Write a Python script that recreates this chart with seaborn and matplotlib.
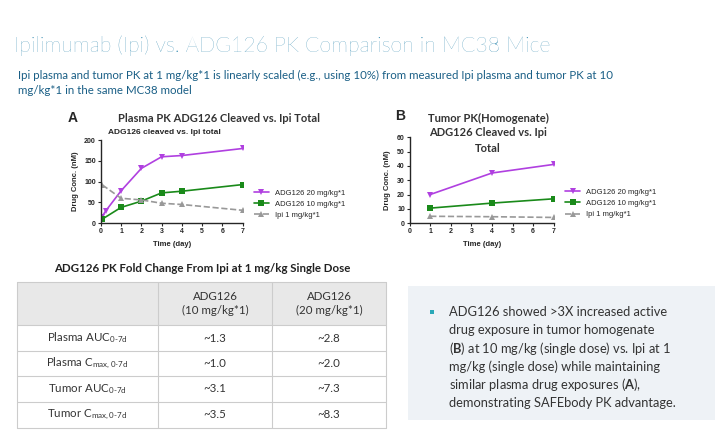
import matplotlib
matplotlib.use("Agg")
import matplotlib.pyplot as plt
import seaborn as sns
import pandas as pd
from matplotlib.patches import Rectangle

# ---- data ----
plasma_time_20 = [0.05, 0.25, 1, 2, 3, 4, 7]
plasma_adg20 = [15, 30, 78, 132, 160, 163, 180]
plasma_time_10 = [0.08, 1, 2, 3, 4, 7]
plasma_adg10 = [10, 38, 53, 73, 77, 93]
plasma_time_ipi = [0.08, 1, 2, 3, 4, 7]
plasma_ipi = [92, 60, 56, 48, 45, 31]

tumor_time = [1, 4, 7]
tumor_adg20 = [20, 35, 41]
tumor_adg10 = [10.5, 14, 17]
tumor_ipi = [4.8, 4.5, 4.0]

series_labels = ["ADG126 20 mg/kg*1", "ADG126 10 mg/kg*1", "Ipi 1 mg/kg*1"]
row_labels = ["Plasma AUC$_{\\mathregular{0\\text{-}7d}}$", "Plasma C$_{\\mathregular{max,0\\text{-}7d}}$",
              "Tumor AUC$_{\\mathregular{0\\text{-}7d}}$", "Tumor C$_{\\mathregular{max,0\\text{-}7d}}$"]
fold_10 = ["~1.3", "~1.0", "~3.1", "~3.5"]
fold_20 = ["~2.8", "~2.0", "~7.3", "~8.3"]

sns.set_style("ticks")
plt.rcParams["font.family"] = ["Liberation Sans", "DejaVu Sans"]
plt.rcParams["mathtext.fontset"] = "custom"
plt.rcParams["mathtext.rm"] = "Lato"
plt.rcParams["mathtext.it"] = "Lato"
plt.rcParams["mathtext.bf"] = "Lato:bold"

fig = plt.figure(figsize=(7.2, 4.3), dpi=100)
bg = fig.add_axes([0, 0, 1, 1], zorder=5)
bg.patch.set_alpha(0)
bg.set_xlim(0, 720)
bg.set_ylim(430, 0)
bg.axis("off")

slide = dict(family="Lato")
teal = "#1f7fa8"
bg.text(14, 46, "Ipilimumab (Ipi) vs. ADG126 PK Comparison in MC38 Mice", fontsize=15.3, color=teal, va="center",
        family="Lato", fontweight="light")
bg.text(18, 75, "Ipi plasma and tumor PK at 1 mg/kg*1 is linearly scaled (e.g., using 10%) from measured Ipi plasma and tumor PK at 10",
        fontsize=8.3, color="#1a5f86", va="center", **slide)
bg.text(18, 91, "mg/kg*1 in the same MC38 model", fontsize=8.3, color="#1a5f86", va="center", **slide)

colors = ["#b040e0", "#1a8a1a", "#999999"]
markers = ["v", "s", "^"]
styles = ["-", "-", "--"]


def draw(ax, data):
    ax.patch.set_alpha(0)
    for (x, y), lab, c, m, ls in zip(data, series_labels, colors, markers, styles):
        df = pd.DataFrame({"t": x, "v": y})
        sns.lineplot(data=df, x="t", y="v", ax=ax, color=c, marker=m, linestyle=ls,
                     markersize=5, markeredgewidth=0, linewidth=1.2, label=lab)
    ax.set_xlim(0, 7)
    ax.set_xticks(range(8))
    ax.set_xlabel("Time (day)", fontsize=5.5, fontweight="bold")
    ax.set_ylabel("Drug Conc. (nM)", fontsize=5.5, fontweight="bold")
    ax.tick_params(labelsize=5, width=0.8, length=2.5, pad=1)
    for lbl in ax.get_xticklabels() + ax.get_yticklabels():
        lbl.set_fontweight("bold")
    sns.despine(ax=ax)
    for s in ["left", "bottom"]:
        ax.spines[s].set_linewidth(1.0)
    ax.legend(loc="center left", bbox_to_anchor=(1.03, 0.23), frameon=False, fontsize=5.5,
              handlelength=2, labelspacing=0.5)


axA = fig.add_axes([0.140, 0.481, 0.197, 0.193])
draw(axA, [(plasma_time_20, plasma_adg20), (plasma_time_10, plasma_adg10), (plasma_time_ipi, plasma_ipi)])
axA.set_ylim(0, 200)
axA.set_yticks([0, 50, 100, 150, 200])
axA.text(0.05, 1.08, "ADG126 cleaved vs. Ipi total", transform=axA.transAxes, fontsize=6, fontweight="bold")

axB = fig.add_axes([0.569, 0.481, 0.2, 0.2])
draw(axB, [(tumor_time, tumor_adg20), (tumor_time, tumor_adg10), (tumor_time, tumor_ipi)])
axB.set_ylim(0, 60)
axB.set_yticks(range(0, 61, 10))

bg.text(68, 118, "A", fontsize=10, fontweight="bold", va="center")
bg.text(118, 118, "Plasma PK ADG126 Cleaved vs. Ipi Total", fontsize=8, fontweight="bold", color="#333333", va="center", **slide)
bg.text(395, 116, "B", fontsize=10, fontweight="bold", va="center")
for i, line in enumerate(["Tumor PK(Homogenate)", "ADG126 Cleaved vs. Ipi", "Total"]):
    bg.text(488, 118 + i * 15, line, fontsize=8, fontweight="bold", color="#333333", ha="center", va="center", **slide)

# ---- table ----
bg.text(202, 268, "ADG126 PK Fold Change From Ipi at 1 mg/kg Single Dose", fontsize=8.3, fontweight="bold",
        color="#222222", ha="center", va="center", **slide)
cols = [17, 158, 272, 386]
rows = [282, 325, 351, 376, 402, 428]
bg.add_patch(Rectangle((cols[0], rows[0]), cols[-1] - cols[0], rows[1] - rows[0], facecolor="#e8e8e8", edgecolor="none"))
for y in rows:
    bg.plot([cols[0], cols[-1]], [y, y], color="#cccccc", lw=0.8)
for x in cols:
    bg.plot([x, x], [rows[0], rows[-1]], color="#cccccc", lw=0.8)
for j, txt in enumerate(["ADG126\n(10 mg/kg*1)", "ADG126\n(20 mg/kg*1)"]):
    bg.text((cols[j + 1] + cols[j + 2]) / 2, (rows[0] + rows[1]) / 2, txt, fontsize=8.3, ha="center", va="center",
            color="#333333", linespacing=1.4, **slide)
for i in range(4):
    yc = (rows[i + 1] + rows[i + 2]) / 2
    bg.text((cols[0] + cols[1]) / 2, yc, row_labels[i], fontsize=8.3, ha="center", va="center", color="#333333", **slide)
    bg.text((cols[1] + cols[2]) / 2, yc, fold_10[i], fontsize=8.3, ha="center", va="center", color="#333333", **slide)
    bg.text((cols[2] + cols[3]) / 2, yc, fold_20[i], fontsize=8.3, ha="center", va="center", color="#333333", **slide)

# ---- text box ----
bg.add_patch(Rectangle((408, 286), 307, 134, facecolor="#eef2f6", edgecolor="none"))
bg.add_patch(Rectangle((430, 310), 4, 4, facecolor="#2aa8b8", edgecolor="none"))
box_lines = ["ADG126 showed >3X increased active", "drug exposure in tumor homogenate",
             "($\\mathbf{B}$) at 10 mg/kg (single dose) vs. Ipi at 1", "mg/kg (single dose) while maintaining",
             "similar plasma drug exposures ($\\mathbf{A}$),", "demonstrating SAFEbody PK advantage."]
for i, line in enumerate(box_lines):
    bg.text(449, 312 + i * 18.2, line, fontsize=9.3, va="center", color="#333333", **slide)

fig.savefig("out.png", dpi=100)
